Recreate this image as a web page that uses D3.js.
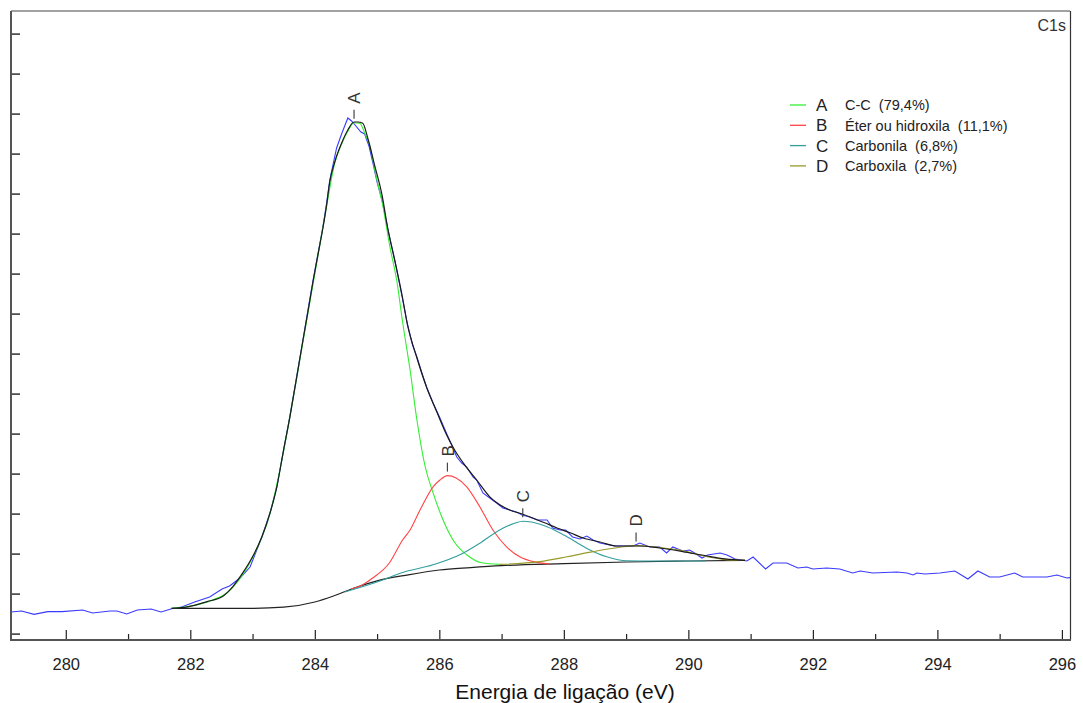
<!DOCTYPE html>
<html><head><meta charset="utf-8">
<script src="https://cdn.jsdelivr.net/npm/d3@7"></script>
<style>
body{margin:0;background:#fff;}
svg{display:block;font-family:Arial,"Liberation Sans",sans-serif;}
</style>
</head><body><svg id="c" width="1083" height="703"></svg>
<script>
// ---------- data (binding energy eV, intensity a.u.) ----------
const rawSpectrum = [[279.12,0.54],[279.29,0.565],[279.49,0.48],[279.71,0.55],[279.94,0.55],[280.27,0.59],[280.43,0.515],[280.71,0.565],[280.82,0.565],[280.98,0.49],[281.15,0.59],[281.37,0.615],[281.53,0.54],[281.70,0.62],[281.86,0.665],[282.07,0.79],[282.31,0.915],[282.51,1.115],[282.63,1.19],[282.80,1.39],[282.96,1.665],[283.15,2.415],[283.28,3.015],[283.39,3.665],[283.49,4.515],[283.60,5.44],[283.71,6.44],[283.81,7.34],[283.90,8.19],[283.97,8.815],[284.05,9.49],[284.13,10.165],[284.19,10.765],[284.24,11.34],[284.35,12.14],[284.43,12.49],[284.53,12.89],[284.59,12.815],[284.66,12.69],[284.74,12.54],[284.80,12.49],[284.87,12.19],[284.93,11.79],[285.00,11.29],[285.08,10.84],[285.17,10.14],[285.29,9.29],[285.40,8.44],[285.49,7.715],[285.57,7.215],[285.64,6.915],[285.72,6.515],[285.80,6.14],[285.90,5.765],[286.01,5.39],[286.12,4.99],[286.20,4.715],[286.28,4.415],[286.36,4.265],[286.44,4.165],[286.54,3.915],[286.60,3.84],[286.70,3.515],[286.81,3.39],[286.92,3.265],[287.02,3.14],[287.13,3.09],[287.24,3.04],[287.33,2.965],[287.45,2.915],[287.57,2.84],[287.73,2.84],[287.82,2.64],[287.94,2.59],[288.03,2.59],[288.14,2.415],[288.26,2.365],[288.37,2.44],[288.47,2.34],[288.58,2.265],[288.82,2.19],[289.11,2.19],[289.22,2.265],[289.38,2.165],[289.54,2.165],[289.65,2.015],[289.75,2.165],[289.91,2.065],[290.02,2.09],[290.10,2.015],[290.22,1.89],[290.31,1.965],[290.51,2.015],[290.62,1.965],[290.75,1.865],[290.94,1.815],[291.04,1.915],[291.24,1.615],[291.36,1.765],[291.58,1.765],[291.76,1.64],[291.90,1.665],[292.00,1.615],[292.22,1.64],[292.43,1.615],[292.64,1.515],[292.76,1.565],[292.96,1.515],[293.35,1.54],[293.51,1.515],[293.61,1.465],[293.67,1.515],[293.80,1.49],[294.04,1.515],[294.28,1.565],[294.49,1.365],[294.65,1.565],[294.84,1.415],[295.00,1.415],[295.24,1.515],[295.37,1.415],[295.76,1.415],[295.92,1.465],[296.08,1.39],[296.13,1.40]];

const envelope = [[281.70,0.63],[281.96,0.67],[282.27,0.80],[282.51,0.92],[282.68,1.17],[282.84,1.51],[283.00,1.92],[283.15,2.42],[283.28,3.01],[283.39,3.67],[283.49,4.52],[283.60,5.42],[283.71,6.42],[283.81,7.34],[283.90,8.14],[283.97,8.79],[284.05,9.47],[284.13,10.14],[284.19,10.72],[284.24,11.29],[284.32,11.79],[284.43,12.26],[284.53,12.59],[284.63,12.79],[284.69,12.79],[284.77,12.76],[284.85,12.39],[284.96,11.71],[285.08,10.96],[285.17,10.14],[285.29,9.29],[285.40,8.47],[285.49,7.71],[285.64,6.89],[285.80,6.14],[285.96,5.54],[286.12,4.96],[286.22,4.66],[286.41,4.21],[286.60,3.84],[286.81,3.42],[286.97,3.22],[287.13,3.09],[287.33,2.99],[287.50,2.89],[287.69,2.77],[287.89,2.64],[288.10,2.52],[288.31,2.39],[288.58,2.29],[288.85,2.19],[289.22,2.19],[289.54,2.14],[289.91,2.05],[290.30,1.94],[290.59,1.87],[290.91,1.83]];

const background = [[281.70,0.63],[283.00,0.63],[283.50,0.66],[284.00,0.79],[284.30,0.94],[284.60,1.12],[285.00,1.32],[285.50,1.47],[286.00,1.59],[286.50,1.65],[287.00,1.70],[288.00,1.75],[289.00,1.79],[290.00,1.815],[290.91,1.83]];

const peakA = [[281.70,0.63],[282.27,0.79],[282.68,1.15],[283.00,1.90],[283.28,3.00],[283.49,4.49],[283.71,6.40],[283.90,8.11],[284.05,9.44],[284.19,10.69],[284.32,11.76],[284.43,12.24],[284.53,12.56],[284.63,12.77],[284.72,12.76],[284.82,12.44],[284.88,12.22],[284.99,11.39],[285.09,10.72],[285.20,9.72],[285.32,8.79],[285.41,7.79],[285.53,6.59],[285.64,5.34],[285.77,4.19],[285.90,3.52],[286.06,2.84],[286.25,2.27],[286.44,1.97],[286.68,1.77],[286.97,1.73]];

const peakB = [[284.59,1.12],[284.67,1.15],[284.93,1.39],[285.20,1.77],[285.41,2.34],[285.53,2.59],[285.69,3.09],[285.90,3.67],[286.01,3.84],[286.13,3.95],[286.27,3.89],[286.44,3.67],[286.65,3.17],[286.86,2.59],[287.08,2.17],[287.29,1.92],[287.57,1.78],[287.77,1.74]];

const peakC = [[284.48,1.04],[285.09,1.34],[285.37,1.51],[285.90,1.72],[286.33,1.97],[286.65,2.26],[286.97,2.59],[287.21,2.76],[287.34,2.81],[287.48,2.79],[287.73,2.67],[288.05,2.42],[288.37,2.13],[288.69,1.92],[289.01,1.82],[289.38,1.815],[290.28,1.815]];

const peakD = [[286.97,1.73],[287.61,1.80],[288.05,1.92],[288.47,2.05],[288.90,2.16],[289.16,2.20],[289.30,2.19],[289.54,2.15],[289.86,2.09],[290.30,1.92],[290.59,1.85],[290.91,1.83]];

const peakNames = ["A", "B", "C", "D"];
const peakDescriptions = ["C-C  (79,4%)", "Éter ou hidroxila  (11,1%)", "Carbonila  (6,8%)", "Carboxila  (2,7%)"];
const peakColors = ["#33ee33", "#ff4444", "#339e9e", "#9a9a2a"];
const xMajorTicks = [280, 282, 284, 286, 288, 290, 292, 294, 296];
const xMinorTicks = [281, 283, 285, 287, 289, 291, 293, 295];
const yTicks = [0,1,2,3,4,5,6,7,8,9,10,11,12,13,14,15];
const xTitle = "Energia de ligação (eV)";
const regionLabel = "C1s";

// ---------- drawing ----------
const svg = d3.select("#c");
const x = d3.scaleLinear().domain([279.12, 296.13]).range([11, 1070]);
const y = d3.scaleLinear().domain([-0.16, 15.565]).range([640, 11]);

const clip = svg.append("clipPath").attr("id", "pc").append("rect")
  .attr("x", 11).attr("y", 11).attr("width", 1059).attr("height", 629);
const plot = svg.append("g").attr("clip-path", "url(#pc)");

const lineLin = d3.line().x(d => x(d[0])).y(d => y(d[1]));
const lineSm = d3.line().x(d => x(d[0])).y(d => y(d[1])).curve(d3.curveMonotoneX);

plot.append("path").datum(rawSpectrum).attr("d", lineLin)
  .attr("fill", "none").attr("stroke", "#3a3aff").attr("stroke-width", 1.1);

plot.append("path").datum(background).attr("d", lineSm)
  .attr("fill", "none").attr("stroke", "#222").attr("stroke-width", 1.2);

const comps = [peakA, peakB, peakC, peakD];
comps.forEach((c, i) => {
  plot.append("path").datum(c).attr("d", lineSm)
    .attr("fill", "none").attr("stroke", peakColors[i]).attr("stroke-width", 1.1);
});

plot.append("path").datum(envelope).attr("d", lineSm)
  .attr("fill", "none").attr("stroke", "#1a1a1a").attr("stroke-width", 1.2);

// peak labels
comps.forEach((c, i) => {
  const top = c.reduce((a, b) => (b[1] > a[1] ? b : a));
  const px = x(top[0]), py = y(top[1]);
  svg.append("line").attr("x1", px).attr("x2", px).attr("y1", py - 4).attr("y2", py - 13)
    .attr("stroke", "#444").attr("stroke-width", 1.2);
  svg.append("text").attr("transform", `translate(${px},${py - 19}) rotate(-90)`)
    .attr("dy", "0.36em").attr("font-size", 17).attr("fill", "#333").text(peakNames[i]);
});

// axes
const gx = svg.append("g").attr("transform", "translate(0,640)");
gx.call(d3.axisBottom(x).tickValues(xMajorTicks).tickSize(-10).tickPadding(18).tickFormat(d3.format("d")));
gx.select(".domain").remove();
gx.selectAll("line").attr("stroke", "#222").attr("stroke-width", 1.2);
gx.selectAll("text").attr("font-size", 16.5).attr("fill", "#222").attr("font-family", "Arial, Liberation Sans, sans-serif");

const gxm = svg.append("g").attr("transform", "translate(0,640)");
gxm.call(d3.axisBottom(x).tickValues(xMinorTicks).tickSize(-6).tickFormat(""));
gxm.select(".domain").remove();
gxm.selectAll("line").attr("stroke", "#222").attr("stroke-width", 1.2);

const gy = svg.append("g").attr("transform", "translate(11,0)");
gy.call(d3.axisLeft(y).tickValues(yTicks).tickSize(-9).tickFormat(""));
gy.select(".domain").remove();
gy.selectAll("line").attr("stroke", "#222").attr("stroke-width", 1.4);

// frame
svg.append("line").attr("x1", 11).attr("x2", 1070).attr("y1", 11).attr("y2", 11).attr("stroke", "#444").attr("stroke-width", 1);
svg.append("line").attr("x1", 1070.5).attr("x2", 1070.5).attr("y1", 11).attr("y2", 640).attr("stroke", "#333").attr("stroke-width", 1.2);
svg.append("line").attr("x1", 11).attr("x2", 11).attr("y1", 11).attr("y2", 641).attr("stroke", "#555").attr("stroke-width", 2);
svg.append("line").attr("x1", 10).attr("x2", 1071).attr("y1", 640).attr("y2", 640).attr("stroke", "#555").attr("stroke-width", 2);

// x title
svg.append("text").attr("x", 565).attr("y", 699).attr("text-anchor", "middle")
  .attr("font-size", 21).attr("fill", "#111").text(xTitle);

// region label
svg.append("text").attr("x", 1066).attr("y", 31).attr("text-anchor", "end")
  .attr("font-size", 16).attr("fill", "#333").text(regionLabel);

// legend
const lg = svg.append("g");
peakNames.forEach((n, i) => {
  const ly = 105 + i * 20.3;
  lg.append("line").attr("x1", 790).attr("x2", 806).attr("y1", ly).attr("y2", ly)
    .attr("stroke", peakColors[i]).attr("stroke-width", 1.3);
  lg.append("text").attr("x", 816).attr("y", ly).attr("dy", "0.36em")
    .attr("font-size", 17).attr("fill", "#222").text(n);
  lg.append("text").attr("x", 845).attr("y", ly).attr("dy", "0.36em")
    .attr("font-size", 14.5).attr("fill", "#222").style("white-space", "pre").text(peakDescriptions[i]);
});
</script>
</body></html>
